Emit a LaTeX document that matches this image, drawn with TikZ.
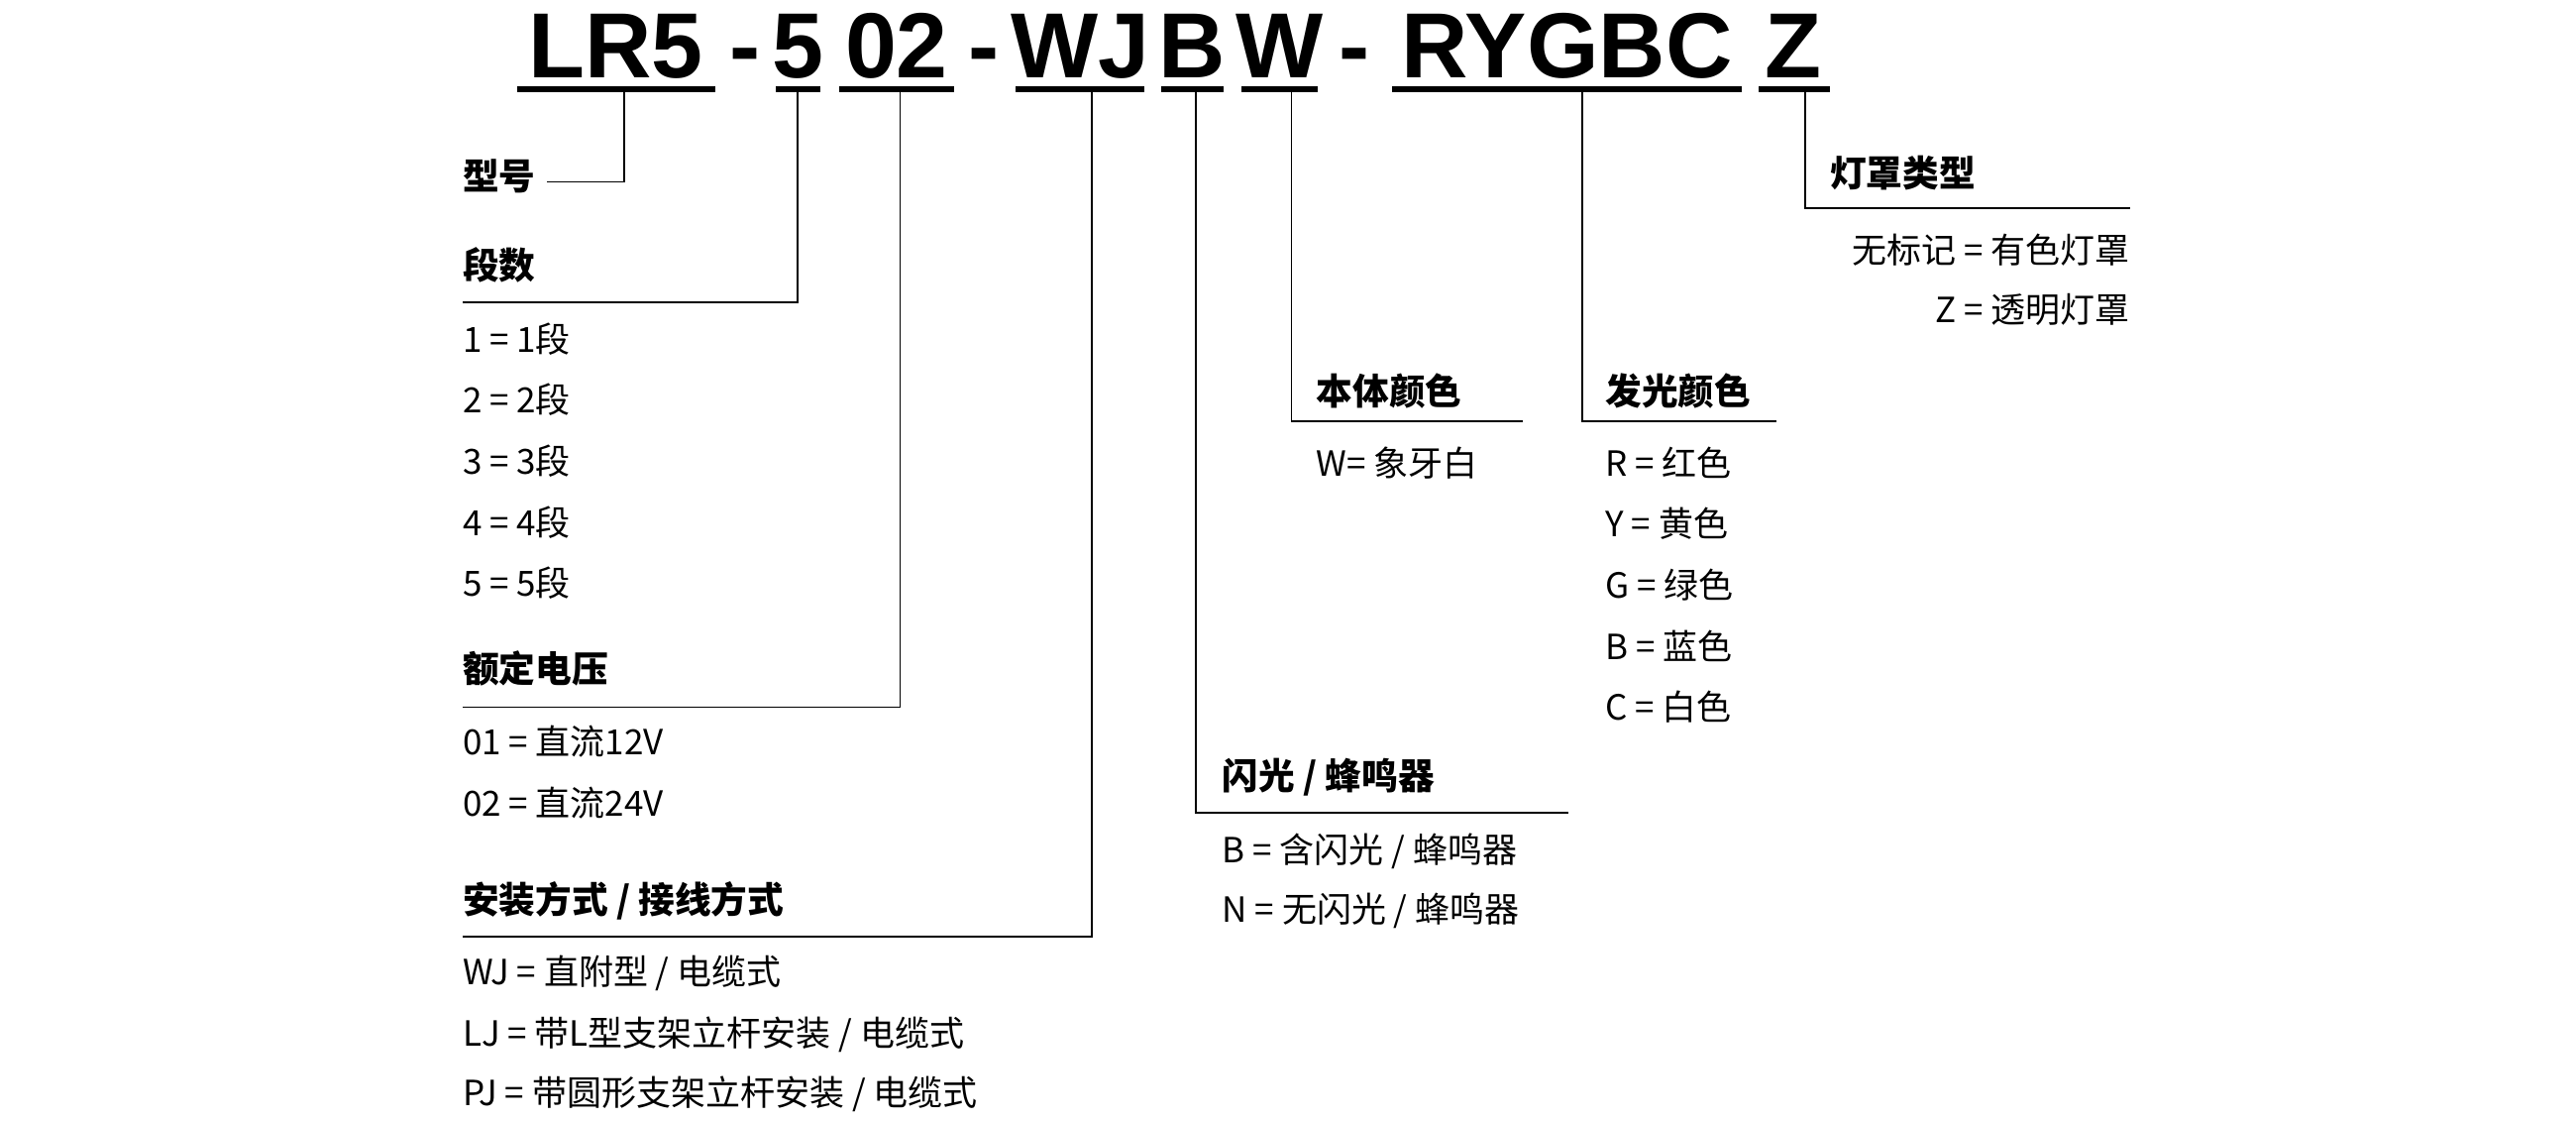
\documentclass[tikz,border=0pt]{standalone}
\usepackage{fontspec}
\setmainfont{Noto Sans CJK SC}
\newfontfamily\codefont{Liberation Sans}
\usetikzlibrary{positioning}
\tikzset {
    code/.style={
        font=\codefont\bfseries\fontsize{56}{56}\selectfont,
        anchor=base, inner sep=0pt,
    },
    head/.style={
        font=\bfseries\fontsize{22}{26}\selectfont,
        anchor=base west, inner sep=0pt,
    },
    item/.style={
        font=\fontsize{21}{26}\selectfont,
        anchor=base west, inner sep=0pt,
    },
    bar/.style={line width=4pt},
    lead/.style={line width=1pt},
}

\begin{document}
\begin{tikzpicture}[x=1pt, y=-1pt]
        \useasboundingbox (0,0) rectangle (1560,678);

        % code letters
        \node[code] at (373,47) (cLR) {LR5};
        \node[code] at (451,47) (d1) {-};
        \node[code] at (483,47) (cN) {5};
        \node[code] at (543,47) (cV) {02};
        \node[code] at (596,47) (d2) {-};
        \node[code] at (654,47) (cM) {WJ};
        \node[code] at (722,47) (cF) {B};
        \node[code] at (775,47) (cB) {W};
        \node[code] at (820,47) (d3) {-};
        \node[code] at (949,47) (cL) {RYGBC};
        \node[code] at (1086,47) (cC) {Z};

        % bars
        \draw[bar] (313,54) -- (433,54);
        \draw[bar] (470,54) -- (497,54);
        \draw[bar] (508,54) -- (578,54);
        \draw[bar] (615,54) -- (693,54);
        \draw[bar] (703,54) -- (741,54);
        \draw[bar] (752,54) -- (798,54);
        \draw[bar] (843,54) -- (1055,54);
        \draw[bar] (1065,54) -- (1108,54);
        \coordinate (tLR) at (378,56);
        \coordinate (tN) at (483,56);
        \coordinate (tV) at (545,56);
        \coordinate (tM) at (661,56);
        \coordinate (tF) at (724,56);
        \coordinate (tB) at (782,56);
        \coordinate (tL) at (958,56);
        \coordinate (tC) at (1093,56);

        % left column
        \node[head] at (280,115) (hType) {型号};
        \node[head] at (280,169) (hNum) {段数};
        \foreach \k/\yy in {1/213,2/250,3/287,4/324,5/361}
            \node[item] at (280,\yy) (num\k) {\k\ =\ \k 段};
        \node[head] at (280,413) (hVolt) {额定电压};
        \node[item] at (280,457) (v1) {01 = 直流12V};
        \node[item] at (280,494) (v2) {02 = 直流24V};
        \node[head] at (280,553) (hMount) {安装方式 / 接线方式};
        \node[item] at (280,596) (m1) {WJ = 直附型 / 电缆式};
        \node[item] at (280,633) (m2) {LJ = 带L型支架立杆安装 / 电缆式};
        \node[item] at (280,669) (m3) {PJ = 带圆形支架立杆安装 / 电缆式};

        % middle columns
        \node[head] at (740,478) (hFlash) {闪光 / 蜂鸣器};
        \node[item] at (740,522) (f1) {B = 含闪光 / 蜂鸣器};
        \node[item] at (740,558) (f2) {N = 无闪光 / 蜂鸣器};
        \node[head] at (797,245) (hBody) {本体颜色};
        \node[item] at (797,288) (b1) {W= 象牙白};
        \node[head] at (972,245) (hLight) {发光颜色};
        \foreach \c/\t/\yy in {R/红色/288,Y/黄色/325,G/绿色/362,B/蓝色/399,C/白色/436}
            \node[item] at (972,\yy) (l\c) {\c\ =\ \t};

        % right column
        \node[head] at (1108,113) (hCover) {灯罩类型};
        \node[item, anchor=base east] at (1290,159) (k1) {无标记 = 有色灯罩};
        \node[item, anchor=base east] at (1290,195) (k2) {Z = 透明灯罩};

        % leads
        \draw[lead] (tLR) |- (331,110);
        \draw[lead] (tN) |- (280,183);
        \draw[lead] (tV) |- (280,428);
        \draw[lead] (tM) |- (280,567);
        \draw[lead] (tF) |- (950,492);
        \draw[lead] (tB) |- (922,255);
        \draw[lead] (tL) |- (1076,255);
        \draw[lead] (tC) |- (1290,126);
    \end{tikzpicture}
\end{document}
